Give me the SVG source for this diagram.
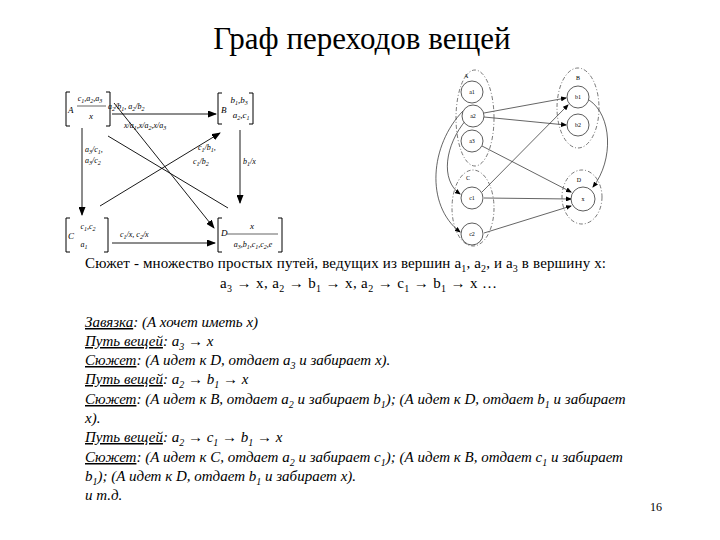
<svg xmlns="http://www.w3.org/2000/svg" width="720" height="540" viewBox="0 0 720 540">
<style>
.t{font-family:"Liberation Serif","Times New Roman",serif;fill:#000}
.title{font-size:31px}
.body{font-size:15px}
.it{font-style:italic}
.u{text-decoration:underline}
.lb{font-size:8px;font-style:italic}
.bx{font-size:9px;font-style:italic}
.sm{font-size:6px}
.br{fill:none;stroke:#000;stroke-width:1}
.ln{fill:none;stroke:#000;stroke-width:0.9}
.el{fill:none;stroke:#555;stroke-width:0.8;stroke-dasharray:4 2 1 2}
.ci{fill:#fff;stroke:#333;stroke-width:0.8}
.th{fill:none;stroke:#222;stroke-width:0.7}
</style>
<defs>
<marker id="ah" markerUnits="userSpaceOnUse" markerWidth="9" markerHeight="7" refX="8" refY="3.5" orient="auto"><path d="M0,0 L9,3.5 L0,7 z" fill="#000"/></marker>
<marker id="sh" markerUnits="userSpaceOnUse" markerWidth="6" markerHeight="5" refX="5" refY="2.5" orient="auto"><path d="M0,0 L6,2.5 L0,5 z" fill="#000"/></marker>
</defs>
<rect width="720" height="540" fill="#fff"/>
<text class="t title" x="362" y="49" text-anchor="middle">Граф переходов вещей</text>

<!-- Left diagram -->
<g id="edges-left">
<line class="ln" x1="112" y1="114" x2="216" y2="114" marker-end="url(#ah)"/>
<line class="ln" x1="82" y1="128" x2="82" y2="215" marker-end="url(#ah)"/>
<line class="ln" x1="240" y1="130" x2="240" y2="203" marker-end="url(#ah)"/>
<line class="ln" x1="112" y1="243" x2="215" y2="243" marker-end="url(#ah)"/>
<line class="ln" x1="114" y1="103" x2="214" y2="228" marker-end="url(#ah)"/>
<line class="ln" x1="100" y1="206" x2="220" y2="133" marker-end="url(#ah)"/>
<line class="ln" x1="108" y1="136" x2="228" y2="208"/>
<text class="t lb" x="108" y="109">a<tspan dy="2" font-size="6">2</tspan><tspan dy="-2">/b</tspan><tspan dy="2" font-size="6">1</tspan><tspan dy="-2">, a</tspan><tspan dy="2" font-size="6">2</tspan><tspan dy="-2">/b</tspan><tspan dy="2" font-size="6">2</tspan></text>
<text class="t lb" x="124" y="128">x/a<tspan dy="2" font-size="6">1</tspan><tspan dy="-2">,x/a</tspan><tspan dy="2" font-size="6">2</tspan><tspan dy="-2">,x/a</tspan><tspan dy="2" font-size="6">3</tspan></text>
<text class="t lb" x="85" y="152">a<tspan dy="2" font-size="6">3</tspan><tspan dy="-2">/c</tspan><tspan dy="2" font-size="6">1</tspan><tspan dy="-2">,</tspan></text>
<text class="t lb" x="85" y="163">a<tspan dy="2" font-size="6">3</tspan><tspan dy="-2">/c</tspan><tspan dy="2" font-size="6">2</tspan></text>
<text class="t lb" x="198" y="150">c<tspan dy="2" font-size="6">1</tspan><tspan dy="-2">/b</tspan><tspan dy="2" font-size="6">1</tspan><tspan dy="-2">,</tspan></text>
<text class="t lb" x="193" y="164">c<tspan dy="2" font-size="6">1</tspan><tspan dy="-2">/b</tspan><tspan dy="2" font-size="6">2</tspan></text>
<text class="t lb" x="243" y="164">b<tspan dy="2" font-size="6">1</tspan><tspan dy="-2">/x</tspan></text>
<text class="t lb" x="120" y="237">c<tspan dy="2" font-size="6">1</tspan><tspan dy="-2">/x, c</tspan><tspan dy="2" font-size="6">2</tspan><tspan dy="-2">/x</tspan></text>
</g>
<g id="nodeA">
<path class="br" d="M70,92 H66 V126 H70 M106,92 H110 V126 H106"/>
<text class="t bx" x="68" y="113">A</text>
<text class="t lb" x="90" y="101" text-anchor="middle">c<tspan dy="2" font-size="6">1</tspan><tspan dy="-2">,a</tspan><tspan dy="2" font-size="6">2</tspan><tspan dy="-2">,a</tspan><tspan dy="2" font-size="6">3</tspan></text>
<line class="th" x1="77" y1="106" x2="106" y2="106"/>
<text class="t bx" x="91" y="119" text-anchor="middle">x</text>
</g>
<g id="nodeB">
<path class="br" d="M222,93 H218 V124 H222 M249,93 H253 V124 H249"/>
<text class="t bx" x="221" y="113">B</text>
<text class="t bx" x="239" y="103" text-anchor="middle">b<tspan dy="2" font-size="6">1</tspan><tspan dy="-2">,b</tspan><tspan dy="2" font-size="6">3</tspan></text>
<text class="t bx" x="241" y="118" text-anchor="middle">a<tspan dy="2" font-size="6">2</tspan><tspan dy="-2">,c</tspan><tspan dy="2" font-size="6">1</tspan></text>
</g>
<g id="nodeC">
<path class="br" d="M70,218 H66 V252 H70 M104,218 H108 V252 H104"/>
<text class="t bx" x="68" y="239">C</text>
<text class="t lb" x="88" y="229" text-anchor="middle">c<tspan dy="2" font-size="6">1</tspan><tspan dy="-2">,c</tspan><tspan dy="2" font-size="6">2</tspan></text>
<text class="t lb" x="84" y="247" text-anchor="middle">a<tspan dy="2" font-size="6">1</tspan></text>
</g>
<g id="nodeD">
<path class="br" d="M222,218 H218 V252 H222 M278,218 H282 V252 H278"/>
<text class="t bx" x="221" y="236">D</text>
<text class="t bx" x="252" y="229" text-anchor="middle">x</text>
<line class="th" x1="227" y1="234" x2="278" y2="234"/>
<text class="t lb" x="253" y="247" text-anchor="middle">a<tspan dy="2" font-size="6">3</tspan><tspan dy="-2">,b</tspan><tspan dy="2" font-size="6">1</tspan><tspan dy="-2">,c</tspan><tspan dy="2" font-size="6">1</tspan><tspan dy="-2">,c</tspan><tspan dy="2" font-size="6">2</tspan><tspan dy="-2">,e</tspan></text>
</g>

<!-- Right diagram -->
<g id="edges-right">
<line class="th" x1="484" y1="113" x2="566" y2="98" marker-end="url(#sh)"/>
<line class="th" x1="484" y1="117" x2="566" y2="125" marker-end="url(#sh)"/>
<line class="th" x1="482" y1="192" x2="568" y2="105" marker-end="url(#sh)"/>
<line class="th" x1="482" y1="146" x2="571" y2="192" marker-end="url(#sh)"/>
<line class="th" x1="484" y1="198" x2="571" y2="199" marker-end="url(#sh)"/>
<line class="th" x1="484" y1="233" x2="571" y2="206" marker-end="url(#sh)"/>
<path class="th" d="M589,100 C612,115 614,160 593,187" marker-end="url(#sh)"/>
<path class="th" d="M463,111 C430,145 425,205 460,232" marker-end="url(#sh)"/>
<path class="th" d="M466,120 C445,145 440,180 460,194" marker-end="url(#sh)"/>
</g>
<g id="groupA">
<ellipse class="el" cx="475" cy="118" rx="19" ry="48"/>
<text class="t sm" x="464" y="78">A</text>
</g>
<g id="a1"><circle class="ci" cx="472" cy="92" r="11"/><text class="t sm" x="472" y="94" text-anchor="middle">a1</text></g>
<g id="a2"><circle class="ci" cx="473" cy="116" r="11"/><text class="t sm" x="473" y="118" text-anchor="middle">a2</text></g>
<g id="a3"><circle class="ci" cx="472" cy="141" r="11"/><text class="t sm" x="472" y="143" text-anchor="middle">a3</text></g>
<g id="groupB">
<ellipse class="el" cx="578" cy="108" rx="21" ry="40"/>
<text class="t sm" x="578" y="80" text-anchor="middle">B</text>
</g>
<g id="b1"><circle class="ci" cx="578" cy="97" r="11"/><text class="t sm" x="578" y="99" text-anchor="middle">b1</text></g>
<g id="b2"><circle class="ci" cx="578" cy="125" r="11"/><text class="t sm" x="578" y="127" text-anchor="middle">b2</text></g>
<g id="groupC">
<ellipse class="el" cx="473" cy="208" rx="21" ry="38"/>
<text class="t sm" x="468" y="180" text-anchor="middle">C</text>
</g>
<g id="c1"><circle class="ci" cx="472" cy="198" r="11"/><text class="t sm" x="472" y="200" text-anchor="middle">c1</text></g>
<g id="c2"><circle class="ci" cx="472" cy="234" r="11"/><text class="t sm" x="472" y="236" text-anchor="middle">c2</text></g>
<g id="groupD">
<ellipse class="el" cx="582" cy="197" rx="20" ry="27"/>
<text class="t sm" x="579" y="182" text-anchor="middle">D</text>
</g>
<g id="x"><circle class="ci" cx="583" cy="199" r="12"/><text class="t sm" x="583" y="201" text-anchor="middle">x</text></g>

<!-- Text -->
<g id="text" class="t body">
<text x="85" y="268" textLength="521" lengthAdjust="spacing">Сюжет - множество простых путей, ведущих из вершин a<tspan dy="4" font-size="10">1</tspan><tspan dy="-4">, a</tspan><tspan dy="4" font-size="10">2</tspan><tspan dy="-4">, и a</tspan><tspan dy="4" font-size="10">3</tspan><tspan dy="-4"> в вершину x:</tspan></text>
<text x="220" y="288" textLength="277" lengthAdjust="spacing">a<tspan dy="4" font-size="10">3</tspan><tspan dy="-4"> → x, a</tspan><tspan dy="4" font-size="10">2</tspan><tspan dy="-4"> → b</tspan><tspan dy="4" font-size="10">1</tspan><tspan dy="-4"> → x, a</tspan><tspan dy="4" font-size="10">2</tspan><tspan dy="-4"> → c</tspan><tspan dy="4" font-size="10">1</tspan><tspan dy="-4"> → b</tspan><tspan dy="4" font-size="10">1</tspan><tspan dy="-4"> → x …</tspan></text>
<text class="it" x="85" y="327"><tspan class="u">Завязка</tspan>: (А хочет иметь х)</text>
<text class="it" x="85" y="346"><tspan class="u">Путь вещей</tspan>: a<tspan dy="4" font-size="10">3</tspan><tspan dy="-4"> → x</tspan></text>
<text class="it" x="85" y="365"><tspan class="u">Сюжет</tspan>: (А идет к D, отдает a<tspan dy="4" font-size="10">3</tspan><tspan dy="-4"> и забирает x).</tspan></text>
<text class="it" x="85" y="384"><tspan class="u">Путь вещей</tspan>: a<tspan dy="4" font-size="10">2</tspan><tspan dy="-4"> → b</tspan><tspan dy="4" font-size="10">1</tspan><tspan dy="-4"> → x</tspan></text>
<text class="it" x="85" y="404"><tspan class="u">Сюжет</tspan>: (А идет к B, отдает a<tspan dy="4" font-size="10">2</tspan><tspan dy="-4"> и забирает b</tspan><tspan dy="4" font-size="10">1</tspan><tspan dy="-4">); (А идет к D, отдает b</tspan><tspan dy="4" font-size="10">1</tspan><tspan dy="-4"> и забирает</tspan></text>
<text class="it" x="85" y="423">x).</text>
<text class="it" x="85" y="442"><tspan class="u">Путь вещей</tspan>: a<tspan dy="4" font-size="10">2</tspan><tspan dy="-4"> → c</tspan><tspan dy="4" font-size="10">1</tspan><tspan dy="-4"> → b</tspan><tspan dy="4" font-size="10">1</tspan><tspan dy="-4"> → x</tspan></text>
<text class="it" x="85" y="462"><tspan class="u">Сюжет</tspan>: (А идет к C, отдает a<tspan dy="4" font-size="10">2</tspan><tspan dy="-4"> и забирает c</tspan><tspan dy="4" font-size="10">1</tspan><tspan dy="-4">); (А идет к B, отдает c</tspan><tspan dy="4" font-size="10">1</tspan><tspan dy="-4"> и забирает</tspan></text>
<text class="it" x="85" y="481">b<tspan dy="4" font-size="10">1</tspan><tspan dy="-4">); (A идет к D, отдает b</tspan><tspan dy="4" font-size="10">1</tspan><tspan dy="-4"> и забирает x).</tspan></text>
<text class="it" x="85" y="500">и т.д.</text>
<text x="650" y="511" font-size="12">16</text>
</g>
</svg>
